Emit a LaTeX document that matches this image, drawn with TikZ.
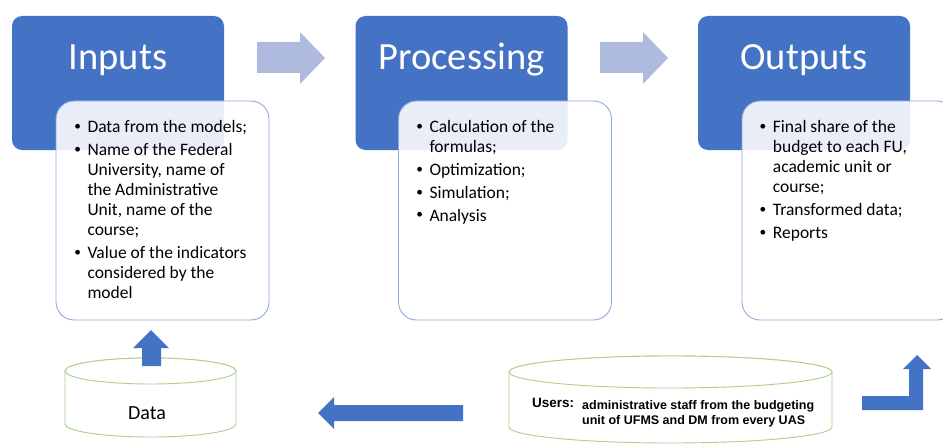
\documentclass[tikz,border=0pt]{standalone}
\usepackage{fontspec}
\setmainfont{Carlito}
\newfontfamily\arialfont{Liberation Sans}
\definecolor{blu}{HTML}{4472C4}
\definecolor{lblu}{RGB}{174,187,222}
\definecolor{bord}{HTML}{8FAADC}
\definecolor{grn}{HTML}{A9D18E}
\newcommand{\bl}{\makebox[13pt][l]{\arialfont\textbullet}}
\tikzset{
  bluebox/.style={fill=blu, draw=none, rounded corners=10pt, minimum width=212pt, minimum height=134pt, inner sep=0pt},
  whitebox/.style={fill=white, fill opacity=0.88, draw=bord, draw opacity=1, line width=0.9pt, rounded corners=18pt, minimum width=213pt, minimum height=219pt, inner sep=0pt},
  titletext/.style={text=white, font=\fontsize{38.5}{46}\selectfont, anchor=base, inner sep=0pt},
  listtext/.style={anchor=base west, inner sep=0pt, font=\fontsize{17.5}{20}\selectfont, text=black},
  cyl/.style={draw=grn, line width=0.9pt, fill=white},
  darrow/.style={fill=blu, draw=none},
  larrow/.style={fill=lblu, draw=none},
  userstext/.style={anchor=base west, inner sep=0pt, font=\arialfont\bfseries\fontsize{12.5}{15}\selectfont}
}
\begin{document}
\begin{tikzpicture}[x=1pt,y=-1pt]
\clip (0,0) rectangle (943,444);
\fill[white] (0,0) rectangle (943,444);

% blue header boxes
\node[bluebox] (inB) at (118,83) {};
\node[bluebox] (prB) at (461.5,83) {};
\node[bluebox] (outB) at (804,83) {};

% titles
\node[titletext] (inT) at (118,70) {Inputs};
\node[titletext] (prT) at (461.5,70) {Processing};
\node[titletext] (outT) at (804,70) {Outputs};

% white list boxes
\node[whitebox] (inW) at (162.5,210.5) {};
\node[whitebox] (prW) at (505,210.5) {};
\node[whitebox] (outW) at (848.5,210.5) {};

% lists
\node[listtext] (inL) at (74.3,132) {\begin{tabular}[t]{@{}l@{}l@{}}
\bl & Data from the models;\\[3pt]
\bl & Name of the Federal\\
 & University, name of\\
 & the Administrative\\
 & Unit, name of the\\
 & course;\\[3pt]
\bl & Value of the indicators\\
 & considered by the\\
 & model
\end{tabular}};
\node[listtext] (prL) at (416.3,132) {\begin{tabular}[t]{@{}l@{}l@{}}
\bl & Calculation of the\\
 & formulas;\\[3pt]
\bl & Optimization;\\[3pt]
\bl & Simulation;\\[3pt]
\bl & Analysis
\end{tabular}};
\node[listtext] (outL) at (759.7,132) {\begin{tabular}[t]{@{}l@{}l@{}}
\bl & Final share of the\\
 & budget to each FU,\\
 & academic unit or\\
 & course;\\[3pt]
\bl & Transformed data;\\[3pt]
\bl & Reports
\end{tabular}};

% light block arrows between stages
\fill[larrow] (257,42) -- (300,42) -- (300,32) -- (325,58) -- (300,84) -- (300,73) -- (257,73) -- cycle;
\fill[larrow] (600,42) -- (643,42) -- (643,32) -- (668,58) -- (643,84) -- (643,73) -- (600,73) -- cycle;

% Data cylinder
\path[cyl] (65,371) -- (65,424) arc[start angle=180, end angle=360, x radius=85.5pt, y radius=13pt] -- (236,371) arc[start angle=0, end angle=180, x radius=85.5pt, y radius=13pt] -- cycle;
\draw[cyl] (150.5,371) ellipse [x radius=85.5pt, y radius=13pt];
\node[inner sep=0pt, anchor=base, font=\fontsize{20}{24}\selectfont] (dataT) at (147,419) {Data};

% Users cylinder
\path[cyl] (509,372) -- (509,427) arc[start angle=180, end angle=360, x radius=161.5pt, y radius=16pt] -- (832,372) arc[start angle=0, end angle=180, x radius=161.5pt, y radius=16pt] -- cycle;
\draw[cyl] (670.5,372) ellipse [x radius=161.5pt, y radius=16pt];
\node[userstext, font=\arialfont\bfseries\fontsize{13.5}{16}\selectfont] (usersL) at (532,407) {Users:};
\node[userstext] (usersT) at (582,409) {\begin{tabular}[t]{@{}l@{}}administrative staff from the budgeting\\ unit of UFMS and DM from every UAS\end{tabular}};

% dark block arrows
\fill[darrow] (142,366) -- (142,348) -- (133,348) -- (151,330) -- (169,348) -- (161,348) -- (161,366) -- cycle;
\fill[darrow] (463,405) -- (334,405) -- (334,397) -- (318,413) -- (334,429) -- (334,421) -- (463,421) -- cycle;
\fill[darrow] (862,396) -- (909,396) -- (909,369) -- (903,369) -- (917,355) -- (931,369) -- (923,369) -- (923,410) -- (862,410) -- cycle;
\end{tikzpicture}
\end{document}
